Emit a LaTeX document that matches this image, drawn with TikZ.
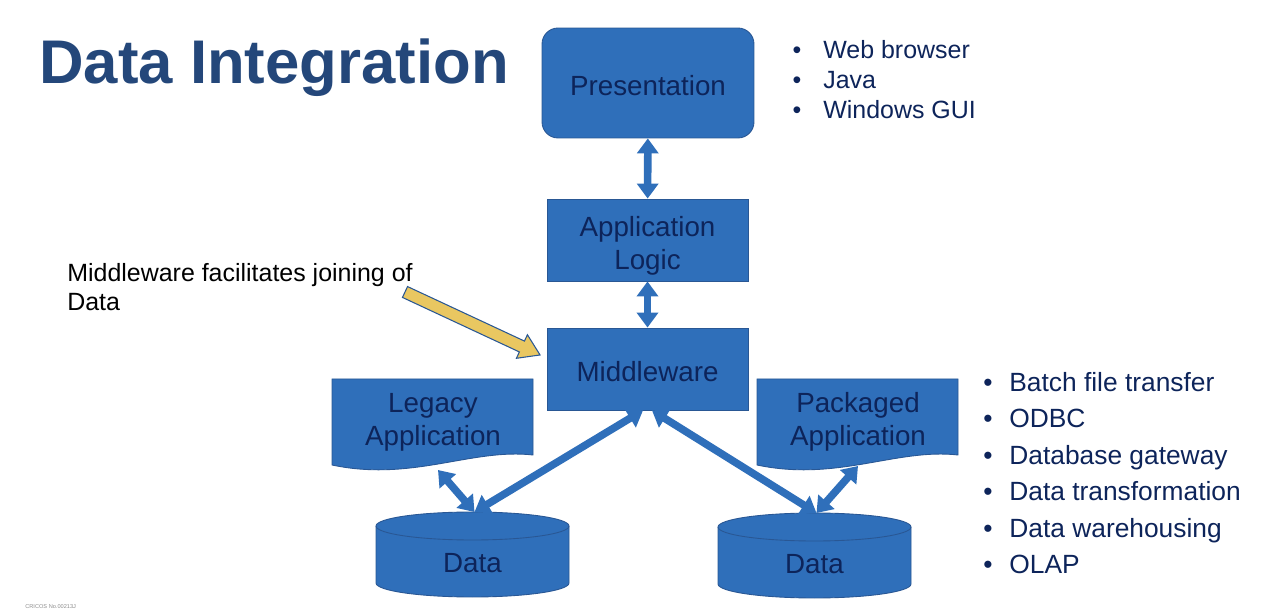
\documentclass[tikz,border=0pt]{standalone}
\usepackage{fontspec}
\setmainfont{Liberation Sans}
\usepackage{xcolor}
\usetikzlibrary{arrows.meta}
\usetikzlibrary{math}
\definecolor{boxblue}{RGB}{47,111,186}
\definecolor{edgeblue}{RGB}{41,87,148}
\definecolor{navy}{RGB}{13,36,90}
\definecolor{titleblue}{RGB}{36,71,122}
\definecolor{calloutyellow}{RGB}{233,199,97}

\tikzset{
  block/.style={fill=boxblue, draw=edgeblue, line width=0.5pt, inner sep=0pt},
  boxtext/.style={text=navy, align=center, inner sep=0pt, font=\fontsize{15.8}{18.7}\selectfont},
  link/.style={draw=boxblue, line width=4.3pt,
    {Triangle[length=0.3cm,width=0.42cm]}-{Triangle[length=0.3cm,width=0.42cm]}},
  item/.style={anchor=base west, text=navy, inner sep=0pt},
  dot/.style={anchor=base, text=navy, inner sep=0pt},
}

\begin{document}
\begin{tikzpicture}[x=0.02cm, y=-0.02cm]
\useasboundingbox (0,0) rectangle (1288,614);
\tikzmath{
\cylrx=96.5;%cylinder radius
\cylry=14;
\cylh=57;%distance of the two ends
}

\node[anchor=base west, inner sep=0pt, text=titleblue, font=\fontsize{35.1}{40}\selectfont\bfseries] (title) at (39,84) {Data Integration};

\node[block, rounded corners=0.32cm, minimum width=4.24cm, minimum height=2.2cm,
  label={[boxtext, yshift=-0.06cm]center:Presentation}] (pres) at (648,83) {};
\node[block, minimum width=4.02cm, minimum height=1.64cm,
  label={[boxtext, yshift=-0.12cm]center:Application\\Logic}] (logic) at (647.5,240) {};
\node[block, minimum width=4.02cm, minimum height=1.64cm,
  label={[boxtext, yshift=-0.06cm]center:Middleware}] (mw) at (647.5,369) {};

% documents
\foreach \name/\dx/\txt in {legacy/332/Legacy, packaged/757/Packaged}{
  \filldraw[fill=boxblue, draw=edgeblue, line width=0.5pt] (\dx,379) -- (\dx+201,379) -- (\dx+201,455)
    .. controls (\dx+140,448) and (\dx+80,482) .. (\dx,465) -- cycle;
  \node[boxtext] (\name) at (\dx+101,422) {\txt\\Application};
}
\coordinate (legacy-bot) at (438,470);
\coordinate (packaged-bot) at (858,466);

% cylinders
\foreach \name/\cx/\cy in {dataL/472.5/526, dataR/814.5/527}{
  \filldraw[fill=boxblue, draw=edgeblue, line width=0.5pt] (\cx-\cylrx,\cy) -- (\cx-\cylrx,\cy+\cylh)
    arc[start angle=180, end angle=360, x radius={\cylrx*0.02cm}, y radius={\cylry*0.02cm}]
    -- (\cx+\cylrx,\cy)
    arc[start angle=0, end angle=180, x radius={\cylrx*0.02cm}, y radius={\cylry*0.02cm}] -- cycle;
  \draw[edgeblue, line width=0.5pt] (\cx-\cylrx,\cy)
    arc[start angle=180, end angle=360, x radius={\cylrx*0.02cm}, y radius={\cylry*0.02cm}];
  \node[boxtext] (\name) at (\cx,\cy+37) {Data};
  \coordinate (\name-top) at (\cx+2,\cy-\cylry);
}

\draw[link] (pres) -- (logic);
\draw[link] (logic) -- (mw);
\draw[link] ([xshift=-0.09cm]mw.south) -- (dataL-top);
\draw[link] ([xshift=0.09cm]mw.south) -- (dataR-top);
\draw[link] (legacy-bot) -- (dataL-top);
\draw[link] (packaged-bot) -- (dataR-top);

% callout
\node[anchor=base west, align=left, inner sep=0pt, font=\fontsize{14.2}{17}\selectfont] (note) at (67,311)
  {Middleware facilitates joining of\\Data};
\filldraw[fill=calloutyellow, draw=edgeblue, line width=0.6pt, shift={(405,292)}, rotate=-25]
  (0,-6) -- (129,-6) -- (129,-13) -- (149,0) -- (129,13) -- (129,6) -- (0,6) -- cycle;

% lists
\foreach \txt [count=\i] in {Web browser, Java, Windows GUI}{
  \node[dot, font=\fontsize{14.2}{17}\selectfont] at (797,29+30*\i) {•};
  \node[item, font=\fontsize{14.2}{17}\selectfont] (tier-\i) at (823,29+30*\i) {\txt};
}
\foreach \txt [count=\i] in {Batch file transfer, ODBC, Database gateway, Data transformation, Data warehousing, OLAP}{
  \node[dot, font=\fontsize{15}{18}\selectfont] at (988,355.1+36.4*\i) {•};
  \node[item, font=\fontsize{15}{18}\selectfont] (mw-\i) at (1009,355.1+36.4*\i) {\txt};
}

\node[anchor=west, inner sep=0pt, text=black!45, font=\fontsize{3.2}{4}\selectfont] (cricos) at (25,607) {CRICOS No.00213J};
\end{tikzpicture}
\end{document}
